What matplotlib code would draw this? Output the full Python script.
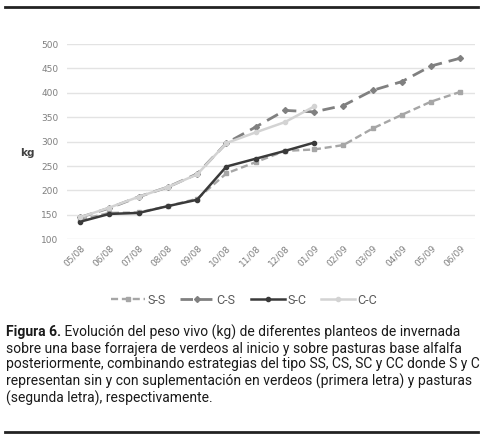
import numpy as np
import matplotlib
matplotlib.use("Agg")
import matplotlib.pyplot as plt
from matplotlib.lines import Line2D

# datos
fechas = ['05/08', '06/08', '07/08', '08/08', '09/08', '10/08', '11/08',
          '12/08', '01/09', '02/09', '03/09', '04/09', '05/09', '06/09']
ss = [140, 154, 155, 168, 183, 235, 258, 281, 284, 293, 327, 355, 382, 402]
cs = [145, 164, 187, 207, 234, 297, 330, 364, 361, 374, 405, 423, 455, 471]
sc = [136, 152, 154, 168, 181, 249, 265, 281, 298]
cc = [145, 165, 187, 207, 233, 297, 319, 340, 372]
y_ticks = [100, 150, 200, 250, 300, 350, 400, 450, 500]

caption_bold = 'Figura 6.'
caption = (' Evolución del peso vivo (kg) de diferentes planteos de invernada\n'
           'sobre una base forrajera de verdeos al inicio y sobre pasturas base alfalfa\n'
           'posteriormente, combinando estrategias del tipo SS, CS, SC y CC donde S y C\n'
           'representan sin y con suplementación en verdeos (primera letra) y pasturas\n'
           '(segunda letra), respectivamente.')

fuente = ['Roboto', 'DejaVu Sans']

fig = plt.figure(figsize=(4.85, 4.4), dpi=100)
ax = fig.add_axes([67 / 485, 1 - 239.3 / 440, 408 / 485, 195.3 / 440])

x = np.arange(len(fechas))
series = [
    ('S-S', ss, '#a6a6a6', (0, (3.0, 1.6)), 's', 1.7),
    ('C-S', cs, '#808080', (0, (4.5, 2.5)), 'D', 2.0),
    ('S-C', sc, '#3a3a3a', '-', 'o', 1.8),
    ('C-C', cc, '#d3d3d3', '-', 'o', 1.8),
]
handles = []
for name, vals, col, ls, mk, lw in series:
    ln, = ax.plot(x[:len(vals)], vals, color=col, linestyle=ls, linewidth=lw,
                  marker=mk, markersize=3, markerfacecolor=col,
                  markeredgecolor=col, label=name)
    handles.append(ln)

ax.set_xlim(-0.45, len(fechas) - 0.5)
ax.set_ylim(100, 500)
ax.set_yticks(y_ticks)
ax.set_xticks(x)
ax.set_xticklabels(fechas, rotation=45, ha='right', rotation_mode='anchor',
                   fontsize=6.5, color='#7f7f7f')
ax.tick_params(axis='y', labelsize=6.5, labelcolor='#7f7f7f', length=0, pad=6)
ax.tick_params(axis='x', length=0, pad=3)
ax.grid(axis='y', color='#e3e3e3', linewidth=1)
ax.set_axisbelow(True)
for s in ax.spines.values():
    s.set_visible(False)

fig.text(20 / 485, 1 - 153 / 440, 'kg', fontsize=7.5, color='#404040',
         ha='left', va='center', fontweight='bold')

fig.legend(handles=handles, loc='center', bbox_to_anchor=(244 / 485, 1 - 300 / 440),
           ncol=4, frameon=False, labelcolor='#595959',
           handlelength=2.7, handletextpad=0.2, columnspacing=1.2,
           prop={'family': fuente, 'size': 9})

# reglas horizontales
fig.add_artist(Line2D([5 / 485, 478 / 485], [1 - 7.5 / 440] * 2, color='#222222', linewidth=2))
fig.add_artist(Line2D([5 / 485, 478 / 485], [1 - 431.5 / 440] * 2, color='#222222', linewidth=2))

# leyenda de la figura: ajustar tamaño para que la primera linea llegue a x~460
lines = caption.split('\n')
size = 11.0
for _ in range(3):
    t1 = fig.text(6 / 485, 1 - 325 / 440, caption_bold, fontsize=size, fontweight='bold',
                  family=fuente, color='#1a1a1a', ha='left', va='top')
    fig.canvas.draw()
    bb = t1.get_window_extent()
    t2 = fig.text(bb.x1 / fig.bbox.width, 1 - 325 / 440, lines[0], fontsize=size,
                  family=fuente, color='#1a1a1a', ha='left', va='top')
    fig.canvas.draw()
    x_end = t2.get_window_extent().x1
    t1.remove()
    t2.remove()
    size = size * (454 / (x_end - 6))

t1 = fig.text(6 / 485, 1 - 325 / 440, caption_bold, fontsize=size, fontweight='bold',
              family=fuente, color='#1a1a1a', ha='left', va='top')
fig.canvas.draw()
bb = t1.get_window_extent()
fig.text(bb.x1 / fig.bbox.width, 1 - 325 / 440, lines[0], fontsize=size, family=fuente,
         color='#1a1a1a', ha='left', va='top')
fig.text(6 / 485, 1 - 341.5 / 440, '\n'.join(lines[1:]), fontsize=size, family=fuente,
         color='#1a1a1a', ha='left', va='top', linespacing=16.3 / (size * 100 / 72 * 1.2) * 1.2)

fig.savefig('out.png', dpi=100)
